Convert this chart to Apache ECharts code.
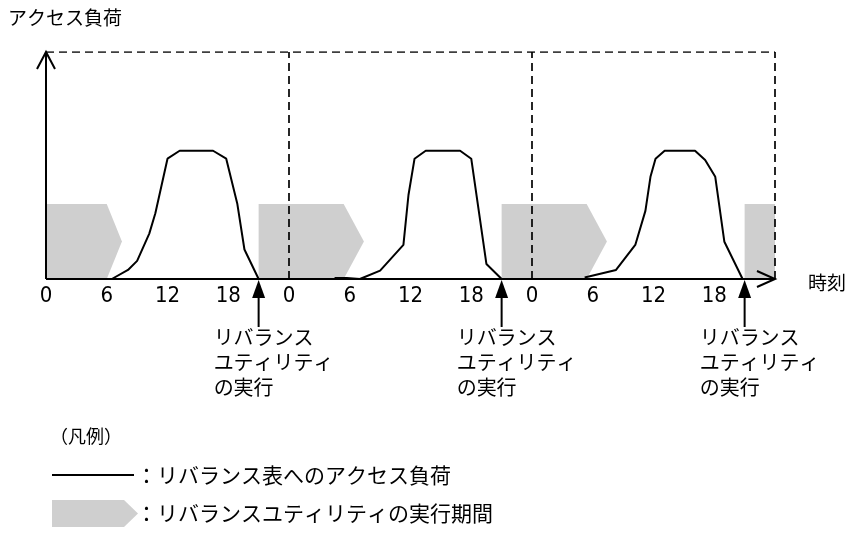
<!DOCTYPE html>
<html><head><meta charset="utf-8">
<script src="https://cdn.jsdelivr.net/npm/echarts@6/dist/echarts.min.js"></script>
<style>html,body{margin:0;padding:0;background:#fff}#c{width:848px;height:534px}</style>
</head><body><div id="c"></div>
<script>
// ---- data ----
const tickLabels = ['0', '6', '12', '18'];
const hoursMax = 72;            // three days
const dayStarts = [24, 48];     // dashed day boundaries (plus right edge)
const loadMax = 100;
const loadDay1 = [[6.5,0],[8.1,4],[9.0,8],[10.2,20],[10.8,29],[12.0,53],[13.2,56.5],[16.5,56.5],[17.8,53],[18.9,33],[19.6,13],[21,0]];
const loadDay2 = [[28.5,0.4],[29.7,0.4],[31,0],[33,3.7],[35.3,15],[35.8,37],[36.4,53],[37.5,56.5],[40.9,56.5],[42,53],[43.5,6.6],[45,0]];
const loadDay3 = [[53.2,0.7],[56.3,4],[58.2,15],[59.2,30],[59.7,45],[60.2,53],[61.1,56.5],[64.1,56.5],[65.1,52.4],[66.1,45],[67,16.4],[68.8,0]];
// run periods: [start, flat end, tip]
const runPeriods = [[0,6,7.5],[21,29.4,31.4],[45,53.4,55.4],[69,72,72]];
const runHeight = 33;
const rebalanceTimes = [21, 45, 69];
const annotation = 'リバランス\nユティリティ\nの実行';
const yAxisName = 'アクセス負荷';
const xAxisName = '時刻';
const legendTitle = '（凡例）';
const legendLine = '：リバランス表へのアクセス負荷';
const legendRun = '：リバランスユティリティの実行期間';

const JP = '"Noto Sans CJK JP", "Noto Sans CJK SC", sans-serif';
const chart = echarts.init(document.getElementById('c'), null, {renderer: 'canvas'});

const lineSeries = (d) => ({
  type: 'line', data: d, symbol: 'none', z: 5, silent: true,
  lineStyle: {color: '#000', width: 2}
});
const dashSeries = (d) => ({
  type: 'line', data: d, symbol: 'none', z: 3, silent: true,
  lineStyle: {color: '#000', width: 1.7, type: [8, 5]}
});

chart.setOption({
  animation: false,
  grid: {left: 46, right: 73, top: 52, bottom: 255},
  xAxis: {
    type: 'value', min: 0, max: hoursMax, interval: 6,
    axisLine: {show: false}, axisTick: {show: false}, splitLine: {show: false},
    axisLabel: {
      color: '#000', fontSize: 22, fontFamily: '"Liberation Sans Narrow", "DejaVu Sans Condensed", sans-serif',
      margin: 6, showMaxLabel: false,
      formatter: v => (v >= hoursMax ? '' : tickLabels[(v % 24) / 6])
    }
  },
  yAxis: {
    type: 'value', min: 0, max: loadMax,
    axisLine: {show: false}, axisTick: {show: false}, splitLine: {show: false}, axisLabel: {show: false}
  },
  series: [
    {
      type: 'custom', z: 1, silent: true,
      data: runPeriods.map(p => [p[0], p[1], p[2], runHeight]),
      renderItem: (params, api) => {
        const s = api.value(0), e = api.value(1), t = api.value(2), h = api.value(3);
        const pts = [api.coord([s,0]), api.coord([s,h]), api.coord([e,h]), api.coord([t,h/2]), api.coord([e,0])];
        return {type: 'polygon', shape: {points: pts}, style: {fill: '#cfcfcf'}};
      }
    },
    dashSeries([[0, loadMax], [hoursMax, loadMax]]),
    ...dayStarts.concat([hoursMax]).map(d => dashSeries([[d, 0], [d, loadMax]])),
    lineSeries(loadDay1), lineSeries(loadDay2), lineSeries(loadDay3),
    {
      type: 'custom', z: 10, silent: true, data: [[0]],
      renderItem: (params, api) => {
        const o = api.coord([0, 0]), top = api.coord([0, loadMax]), r = api.coord([hoursMax, 0]);
        const st = {stroke: '#000', lineWidth: 2, fill: null};
        return {type: 'group', children: [
          {type: 'line', shape: {x1: o[0], y1: o[1], x2: top[0], y2: top[1]}, style: st},
          {type: 'polyline', shape: {points: [[top[0]-9, top[1]+17], [top[0], top[1]], [top[0]+9, top[1]+17]]}, style: st},
          {type: 'line', shape: {x1: o[0], y1: o[1], x2: r[0], y2: r[1]}, style: st},
          {type: 'polyline', shape: {points: [[r[0]-18, r[1]-8], [r[0], r[1]], [r[0]-18, r[1]+8]]}, style: st},
          {type: 'text', x: r[0] + 33, y: r[1] + 4, style: {text: xAxisName, fill: '#000', font: '19px ' + JP, verticalAlign: 'middle', align: 'left'}}
        ]};
      }
    },
    {
      type: 'custom', z: 10, silent: true, data: rebalanceTimes.map(t => [t]),
      renderItem: (params, api) => {
        const p = api.coord([api.value(0), 0]);
        return {type: 'group', children: [
          {type: 'polygon', shape: {points: [[p[0], p[1]+1], [p[0]-6.5, p[1]+19], [p[0]+6.5, p[1]+19]]}, style: {fill: '#000'}},
          {type: 'line', shape: {x1: p[0], y1: p[1]+18, x2: p[0], y2: p[1]+48}, style: {stroke: '#000', lineWidth: 2}},
          {type: 'text', x: p[0] - 45, y: p[1] + 46, style: {text: annotation, fill: '#000', font: '20px ' + JP, lineHeight: 25, verticalAlign: 'top', align: 'left'}}
        ]};
      }
    }
  ],
  graphic: [
    {type: 'text', left: 8, top: 8, style: {text: yAxisName, fill: '#000', font: '19px ' + JP}},
    {type: 'text', left: 50, top: 427, style: {text: legendTitle, fill: '#000', font: '18px ' + JP}},
    {type: 'line', shape: {x1: 52, y1: 475, x2: 134, y2: 475}, style: {stroke: '#000', lineWidth: 2}},
    {type: 'text', x: 136, y: 475, style: {text: legendLine, fill: '#000', font: '21px ' + JP, verticalAlign: 'middle'}},
    {type: 'polygon', shape: {points: [[52,500],[52,527],[124,527],[138,513.5],[124,500]]}, style: {fill: '#cfcfcf'}},
    {type: 'text', x: 136, y: 513, style: {text: legendRun, fill: '#000', font: '21px ' + JP, verticalAlign: 'middle'}}
  ]
});
</script>
</body></html>
